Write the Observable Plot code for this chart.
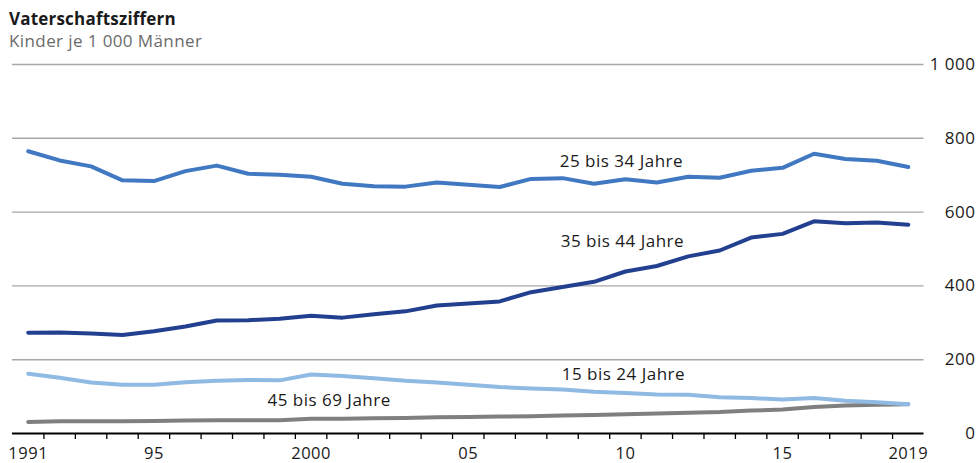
<!DOCTYPE html>
<html>
<head>
<meta charset="utf-8">
<script src="https://cdn.jsdelivr.net/npm/d3@7"></script>
<script src="https://cdn.jsdelivr.net/npm/@observablehq/plot@0.6"></script>
<style>
  html, body { margin: 0; padding: 0; background: #fff; }
  #wrap { position: relative; width: 977px; font-family: "Open Sans", sans-serif; }
  #head { position: relative; height: 50px; }
  #title { position: absolute; left: 9px; top: 10px; font-size: 17px; line-height: 1; font-weight: 700; color: #1a1a1a; letter-spacing: 0.2px; white-space: nowrap; }
  #subtitle { position: absolute; left: 9px; top: 32px; font-size: 17px; line-height: 1; color: #6b6b6b; letter-spacing: 0.4px; white-space: nowrap; }
  #chart svg { display: block; }
</style>
</head>
<body>
<div id="wrap">
  <div id="head">
    <div id="title">Vaterschaftsziffern</div>
    <div id="subtitle">Kinder je 1 000 Männer</div>
  </div>
  <div id="chart"></div>
</div>
<script>
const years = d3.range(1991, 2020);
const groups = ["45 bis 69 Jahre", "15 bis 24 Jahre", "25 bis 34 Jahre", "35 bis 44 Jahre"];
const colors = ["#7f7f7f", "#8fbae4", "#4178c2", "#22408f"];

const age15to24 = [162, 151, 138, 132, 132, 139, 143, 145, 144, 160, 156, 150, 143, 138, 132, 126, 122, 119, 113, 110, 106, 105, 98, 96, 92, 96, 89, 85, 79];
const age25to34 = [765, 740, 724, 686, 684, 711, 726, 704, 701, 696, 677, 670, 669, 680, 674, 668, 690, 692, 677, 689, 680, 696, 693, 712, 720, 758, 744, 739, 722];
const age35to44 = [273, 274, 271, 267, 277, 290, 306, 307, 311, 319, 314, 323, 331, 347, 352, 358, 383, 397, 411, 439, 454, 480, 496, 531, 541, 575, 570, 572, 566];
const age45to69 = [31, 33, 33, 33, 34, 35, 36, 36, 36, 40, 40, 41, 42, 44, 45, 46, 47, 49, 50, 52, 54, 56, 58, 62, 65, 72, 76, 78, 79];

const yTicks = [0, 200, 400, 600, 800, 1000];
const yTickLabels = ["0", "200", "400", "600", "800", "1 000"];
const xLabelYears = [1991, 1995, 2000, 2005, 2010, 2015, 2019];
const xLabelTexts = ["1991", "95", "2000", "05", "10", "15", "2019"];

const seriesValues = [age45to69, age15to24, age25to34, age35to44];
const rows = [];
groups.forEach((g, gi) => years.forEach((yr, i) => rows.push({group: g, year: yr, value: seriesValues[gi][i]})));

// boundaries between yearly categories
const xTickPositions = years.slice(0, -1).map(y => y + 0.5);

function at(group, year) {
  return rows.filter(r => r.group === group && r.year === year);
}

const chart = Plot.plot({
  width: 977,
  height: 413,
  marginTop: 14,
  marginBottom: 30,
  marginLeft: 12,
  marginRight: 53.5,
  x: {domain: [years[0] - 0.5, years[years.length - 1] + 0.5], label: null},
  y: {domain: [0, 1000], axis: null},
  color: {domain: groups, range: colors},
  style: {fontFamily: "Open Sans", fontSize: "17px", color: "#1a1a1a", background: "#fff", letterSpacing: "0.5px"},
  marks: [
    Plot.ruleY(yTicks.slice(1), {stroke: "#a8a8a8", strokeWidth: 1.4}),
    Plot.text(yTicks, {y: d => d, text: (d, i) => yTickLabels[i], frameAnchor: "right", dx: 51.5, textAnchor: "end", fill: "#1a1a1a", fontSize: 17}),
    Plot.axisX(xTickPositions, {tickSize: 6, tickFormat: () => "", label: null, stroke: "#000", strokeWidth: 1.3}),
    Plot.axisX(xLabelYears, {tickSize: 0, tickPadding: 14, label: null, tickFormat: d => xLabelTexts[xLabelYears.indexOf(d)], fontSize: 16.5, fill: "#1a1a1a"}),
    Plot.ruleY([0], {stroke: "#000", strokeWidth: 2}),
    Plot.line(rows, {x: "year", y: "value", z: "group", stroke: "group", strokeWidth: 4, strokeLinecap: "round", strokeLinejoin: "round"}),
    Plot.text(at("25 bis 34 Jahre", 2010), {x: "year", y: "value", text: "group", dx: -4, dy: -18, fill: "#1a1a1a", fontSize: 17}),
    Plot.text(at("35 bis 44 Jahre", 2010), {x: "year", y: "value", text: "group", dx: -3, dy: -30, fill: "#1a1a1a", fontSize: 17}),
    Plot.text(at("15 bis 24 Jahre", 2010), {x: "year", y: "value", text: "group", dx: -2, dy: -18, fill: "#1a1a1a", fontSize: 17}),
    Plot.text(at("45 bis 69 Jahre", 2000), {x: "year", y: "value", text: "group", dx: 18, dy: -18, fill: "#1a1a1a", fontSize: 17})
  ]
});
document.getElementById("chart").appendChild(chart);
</script>
</body>
</html>
